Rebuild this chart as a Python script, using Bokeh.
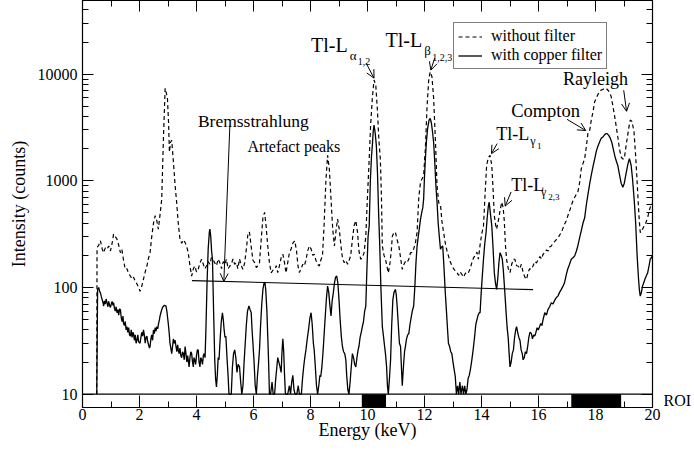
from bokeh.plotting import figure
from bokeh.models import (Range1d, FixedTicker, LinearAxis, LogAxis, Span, BoxAnnotation,
                          Label, Arrow, OpenHead, CustomJSTickFormatter, NumeralTickFormatter)
from bokeh.embed import file_html
from bokeh.resources import INLINE

# ---------------- data ----------------
energy_nofilter = [0.50, 0.51, 0.57, 0.63, 0.69, 0.74, 0.80, 0.86, 0.92, 0.98, 1.04, 1.09, 1.15, 1.21, 1.27, 1.33, 1.38, 1.44, 1.50, 1.56,
    1.62, 1.68, 1.74, 1.79, 1.85, 1.91, 1.97, 2.02, 2.08, 2.14, 2.20, 2.26, 2.31, 2.37, 2.43, 2.49, 2.55, 2.61, 2.66, 2.72,
    2.78, 2.84, 2.90, 2.95, 2.98, 3.02, 3.05, 3.09, 3.13, 3.19, 3.25, 3.31, 3.36, 3.42, 3.48, 3.54, 3.60, 3.66, 3.71, 3.77,
    3.83, 3.89, 3.94, 4.00, 4.06, 4.12, 4.18, 4.24, 4.29, 4.35, 4.41, 4.47, 4.52, 4.58, 4.64, 4.70, 4.76, 4.82, 4.88, 4.94,
    5.00, 5.05, 5.11, 5.17, 5.22, 5.28, 5.34, 5.40, 5.45, 5.51, 5.57, 5.63, 5.69, 5.75, 5.81, 5.86, 5.92, 5.98, 6.04, 6.10,
    6.16, 6.21, 6.27, 6.33, 6.39, 6.44, 6.50, 6.56, 6.62, 6.68, 6.74, 6.80, 6.85, 6.91, 6.97, 7.03, 7.09, 7.14, 7.20, 7.26,
    7.32, 7.38, 7.45, 7.51, 7.56, 7.61, 7.67, 7.73, 7.78, 7.84, 7.90, 7.96, 8.02, 8.08, 8.13, 8.19, 8.25, 8.31, 8.36, 8.42,
    8.48, 8.54, 8.60, 8.66, 8.72, 8.78, 8.84, 8.90, 8.95, 9.01, 9.07, 9.12, 9.18, 9.24, 9.30, 9.35, 9.41, 9.47, 9.53, 9.59,
    9.65, 9.70, 9.76, 9.82, 9.88, 9.94, 9.99, 10.05, 10.11, 10.17, 10.23, 10.29, 10.35, 10.40, 10.45, 10.49, 10.52, 10.58, 10.63, 10.68,
    10.73, 10.79, 10.84, 10.87, 10.93, 10.98, 11.04, 11.10, 11.16, 11.22, 11.28, 11.33, 11.39, 11.45, 11.51, 11.56, 11.62, 11.68, 11.74, 11.80,
    11.86, 11.92, 11.97, 12.03, 12.09, 12.15, 12.20, 12.26, 12.32, 12.38, 12.44, 12.50, 12.56, 12.61, 12.67, 12.73, 12.79, 12.84, 12.90, 12.96,
    13.02, 13.08, 13.14, 13.20, 13.25, 13.31, 13.37, 13.43, 13.49, 13.54, 13.60, 13.66, 13.72, 13.78, 13.84, 13.89, 13.95, 14.01, 14.07, 14.12,
    14.18, 14.24, 14.30, 14.36, 14.40, 14.45, 14.50, 14.53, 14.59, 14.65, 14.71, 14.76, 14.80, 14.84, 14.88, 14.94, 15.00, 15.06, 15.12, 15.17,
    15.23, 15.28, 15.34, 15.40, 15.46, 15.52, 15.58, 15.64, 15.69, 15.75, 15.81, 15.87, 15.93, 15.99, 16.05, 16.11, 16.16, 16.22, 16.28, 16.34,
    16.39, 16.45, 16.51, 16.57, 16.62, 16.68, 16.74, 16.80, 16.86, 16.91, 16.97, 17.03, 17.09, 17.15, 17.21, 17.27, 17.33, 17.38, 17.44, 17.50,
    17.56, 17.62, 17.68, 17.74, 17.80, 17.85, 17.91, 17.97, 18.03, 18.08, 18.14, 18.20, 18.26, 18.32, 18.37, 18.43, 18.49, 18.55, 18.60, 18.66,
    18.72, 18.78, 18.84, 18.90, 18.96, 19.01, 19.07, 19.13, 19.19, 19.22, 19.28, 19.35, 19.41, 19.48, 19.53, 19.57, 19.61, 19.65, 19.71, 19.77,
    19.83, 19.88, 19.94, 20.00]
counts_nofilter = [10, 237, 250, 274, 230, 212, 235, 228, 245, 220, 260, 316, 300, 284, 250, 212, 228, 180, 148, 150,
    135, 128, 120, 125, 115, 108, 100, 92, 103, 120, 140, 159, 185, 212, 300, 400, 471, 420, 352, 480,
    676, 2500, 7380, 6500, 5940, 3500, 1862, 2300, 2400, 1500, 904, 600, 400, 284, 260, 280, 264, 240, 212, 160,
    128, 150, 159, 140, 148, 170, 184, 165, 150, 159, 175, 165, 190, 184, 170, 160, 185, 171, 150, 175,
    165, 184, 150, 159, 165, 185, 165, 171, 150, 185, 160, 148, 170, 230, 330, 328, 240, 180, 171, 154,
    160, 171, 280, 450, 506, 380, 245, 170, 137, 145, 148, 160, 138, 160, 190, 205, 170, 137, 170, 212,
    230, 260, 274, 220, 160, 138, 150, 165, 159, 180, 220, 245, 230, 200, 205, 180, 165, 159, 180, 198,
    400, 1000, 1733, 1300, 676, 350, 245, 350, 438, 350, 245, 190, 171, 180, 165, 177, 200, 280, 380, 423,
    330, 220, 184, 190, 212, 300, 630, 1400, 3325, 6000, 8800, 7930, 4500, 2400, 1613, 700, 245, 200, 184, 160,
    137, 170, 230, 300, 330, 328, 280, 245, 190, 148, 165, 175, 171, 185, 212, 212, 230, 260, 330, 700,
    971, 1050, 1122, 2000, 5000, 9000, 10500, 9500, 6000, 2500, 900, 620, 600, 420, 328, 260, 220, 198, 175, 160,
    150, 143, 138, 130, 140, 133, 125, 135, 140, 137, 150, 170, 190, 198, 215, 184, 250, 320, 379, 700,
    1396, 1650, 1734, 1400, 900, 471, 380, 352, 420, 525, 630, 560, 420, 250, 184, 150, 138, 165, 184, 184,
    160, 159, 150, 165, 138, 125, 119, 140, 150, 148, 160, 175, 170, 184, 195, 185, 205, 212, 225, 220,
    240, 245, 260, 270, 280, 290, 310, 328, 360, 390, 420, 471, 520, 585, 650, 700, 750, 782, 950, 1297,
    1450, 1613, 2100, 2877, 3000, 3700, 4400, 5500, 6000, 6400, 6855, 7100, 7200, 7350, 7380, 7100, 6800, 6150, 5200, 4200,
    3325, 2600, 2000, 1672, 1600, 1613, 2100, 2680, 3400, 3710, 3600, 2900, 1700, 782, 450, 328, 330, 352, 380, 407,
    450, 520, 585, 620]

energy_cu = [0.50, 0.53, 0.57, 0.60, 0.63, 0.66, 0.69, 0.72, 0.74, 0.77, 0.80, 0.83, 0.86, 0.89, 0.92, 0.95, 0.98, 1.01, 1.04, 1.07,
    1.09, 1.12, 1.15, 1.18, 1.21, 1.24, 1.27, 1.30, 1.33, 1.36, 1.39, 1.42, 1.44, 1.47, 1.50, 1.53, 1.56, 1.59, 1.62, 1.65,
    1.68, 1.71, 1.74, 1.77, 1.79, 1.82, 1.85, 1.88, 1.91, 1.94, 1.97, 2.02, 2.05, 2.08, 2.11, 2.14, 2.17, 2.20, 2.23, 2.26,
    2.29, 2.32, 2.35, 2.37, 2.40, 2.43, 2.46, 2.49, 2.52, 2.55, 2.58, 2.61, 2.64, 2.67, 2.70, 2.72, 2.75, 2.78, 2.81, 2.84,
    2.88, 2.93, 2.96, 3.01, 3.04, 3.07, 3.10, 3.13, 3.16, 3.19, 3.22, 3.25, 3.28, 3.31, 3.34, 3.36, 3.39, 3.42, 3.45, 3.48,
    3.51, 3.54, 3.57, 3.60, 3.63, 3.66, 3.69, 3.71, 3.74, 3.77, 3.80, 3.83, 3.86, 3.89, 3.91, 3.94, 3.97, 4.00, 4.03, 4.06,
    4.09, 4.12, 4.15, 4.18, 4.21, 4.24, 4.27, 4.30, 4.33, 4.37, 4.41, 4.45, 4.47, 4.50, 4.53, 4.56, 4.60, 4.64, 4.67, 4.70,
    4.73, 4.76, 4.79, 4.83, 4.87, 4.91, 4.94, 4.97, 5.00, 5.03, 5.07, 5.11, 5.14, 5.19, 5.22, 5.26, 5.30, 5.34, 5.38, 5.42,
    5.46, 5.51, 5.55, 5.59, 5.63, 5.67, 5.71, 5.75, 5.79, 5.84, 5.88, 5.92, 5.95, 5.98, 6.02, 6.06, 6.10, 6.14, 6.18, 6.21,
    6.25, 6.29, 6.33, 6.37, 6.40, 6.43, 6.47, 6.50, 6.53, 6.56, 6.60, 6.65, 6.69, 6.74, 6.78, 6.82, 6.85, 6.89, 6.93, 6.97,
    7.00, 7.03, 7.06, 7.09, 7.12, 7.20, 7.26, 7.30, 7.34, 7.38, 7.42, 7.46, 7.52, 7.57, 7.61, 7.68, 7.72, 7.76, 7.80, 7.84,
    7.88, 7.93, 7.98, 8.02, 8.06, 8.10, 8.13, 8.17, 8.21, 8.25, 8.29, 8.33, 8.36, 8.40, 8.44, 8.48, 8.52, 8.56, 8.60, 8.64,
    8.68, 8.72, 8.76, 8.80, 8.84, 8.88, 8.92, 8.96, 9.00, 9.04, 9.08, 9.12, 9.16, 9.20, 9.24, 9.27, 9.31, 9.35, 9.39, 9.43,
    9.47, 9.51, 9.55, 9.59, 9.63, 9.67, 9.70, 9.74, 9.78, 9.82, 9.86, 9.90, 9.94, 9.98, 10.02, 10.06, 10.10, 10.14, 10.17, 10.20,
    10.23, 10.27, 10.31, 10.35, 10.39, 10.43, 10.47, 10.52, 10.56, 10.60, 10.63, 10.67, 10.70, 10.73, 10.77, 10.81, 10.85, 10.89, 10.93, 10.98,
    11.01, 11.04, 11.08, 11.12, 11.16, 11.19, 11.22, 11.26, 11.30, 11.33, 11.37, 11.41, 11.45, 11.49, 11.53, 11.57, 11.62, 11.66, 11.70, 11.74,
    11.78, 11.82, 11.86, 11.90, 11.94, 11.97, 12.00, 12.03, 12.07, 12.11, 12.16, 12.20, 12.24, 12.28, 12.32, 12.36, 12.40, 12.44, 12.48, 12.52,
    12.56, 12.60, 12.64, 12.68, 12.73, 12.77, 12.81, 12.84, 12.88, 12.92, 12.96, 13.00, 13.04, 13.08, 13.12, 13.16, 13.20, 13.24, 13.28, 13.33,
    13.37, 13.41, 13.45, 13.49, 13.53, 13.57, 13.61, 13.65, 13.69, 13.72, 13.76, 13.80, 13.84, 13.88, 13.92, 13.95, 13.99, 14.03, 14.07, 14.11,
    14.16, 14.20, 14.24, 14.27, 14.31, 14.36, 14.40, 14.45, 14.49, 14.53, 14.57, 14.61, 14.65, 14.69, 14.73, 14.77, 14.82, 14.86, 14.90, 14.94,
    14.97, 15.00, 15.04, 15.08, 15.12, 15.16, 15.20, 15.23, 15.27, 15.31, 15.35, 15.39, 15.43, 15.46, 15.50, 15.54, 15.58, 15.62, 15.66, 15.70,
    15.75, 15.79, 15.83, 15.87, 15.91, 15.95, 15.99, 16.04, 16.08, 16.12, 16.16, 16.22, 16.28, 16.33, 16.39, 16.45, 16.51, 16.57, 16.62, 16.68,
    16.74, 16.80, 16.86, 16.91, 16.97, 17.03, 17.09, 17.15, 17.21, 17.27, 17.33, 17.38, 17.44, 17.50, 17.56, 17.62, 17.68, 17.74, 17.80, 17.85,
    17.91, 17.97, 18.03, 18.08, 18.14, 18.20, 18.26, 18.32, 18.37, 18.41, 18.47, 18.52, 18.57, 18.63, 18.68, 18.74, 18.78, 18.84, 18.90, 18.96,
    19.01, 19.08, 19.14, 19.19, 19.25, 19.30, 19.36, 19.41, 19.46, 19.51, 19.54, 19.57, 19.61, 19.65, 19.69, 19.73, 19.78, 19.83, 19.88, 19.92,
    19.96, 20.00]
counts_cu = [10, 96, 100, 92, 89, 82, 77, 72, 67, 75, 70, 78, 72, 66, 74, 68, 65, 70, 74, 68,
    72, 64, 60, 66, 58, 62, 55, 63, 62, 52, 48, 54, 46, 44, 48, 40, 43, 38, 42, 36,
    35, 40, 34, 38, 37, 32, 36, 30, 32, 36, 31, 30, 34, 38, 35, 40, 36, 30, 34, 35,
    31, 29, 27, 28, 33, 36, 32, 40, 37, 42, 39, 43, 41, 46, 50, 54, 58, 62, 65, 67,
    68, 67, 60, 46, 38, 30, 27, 24, 28, 33, 30, 32, 28, 25, 29, 26, 24, 27, 23, 22,
    25, 24, 21, 28, 24, 20, 23, 21, 18, 22, 25, 24, 20, 18, 22, 21, 19, 23, 26, 26,
    20, 18, 22, 21, 19, 23, 24, 22, 40, 110, 230, 330, 352, 300, 220, 184, 60, 21, 14, 11.7,
    15, 22, 21, 33, 48, 58, 50, 40, 34, 35, 22, 14.6, 10, 10, 10, 18, 24, 26, 22, 16,
    19, 18, 13, 10, 12, 20, 30, 45, 60, 67, 62, 58, 40, 30, 20, 12, 10, 15, 20, 26,
    45, 70, 96, 110, 112, 95, 60, 35, 20, 10, 10, 13, 10, 10, 14, 18, 22, 20, 18, 16,
    25, 33, 25, 15, 10, 10, 12, 10, 13, 15, 11, 10, 10, 12, 10, 10, 14, 18, 22, 26,
    32, 40, 52, 58, 45, 30, 26, 18, 12, 10, 12, 15, 14.6, 18, 25, 37, 55, 80, 103, 90,
    68, 54, 75, 89, 110, 125, 128, 110, 77, 50, 35, 28, 25, 24, 21, 15, 11, 10, 13, 18,
    24, 22, 19, 18, 22, 26, 28, 34, 38, 43, 48, 60, 67, 150, 300, 380, 1000, 1700, 2150, 2900,
    3330, 2800, 2150, 1200, 500, 245, 100, 43, 35, 28, 24, 18, 12, 10, 14, 21, 45, 77, 90, 96,
    85, 67, 45, 30, 28, 18, 12, 18, 25, 28, 33, 36, 37, 45, 52, 60, 67, 100, 170, 245,
    300, 360, 438, 500, 560, 676, 1100, 1600, 2400, 3100, 3700, 3850, 3500, 2900, 2300, 1500, 900, 630, 400, 300,
    228, 240, 245, 160, 89, 60, 40, 30, 28, 25, 24, 20, 17, 14.6, 10, 12, 10, 13, 10, 12,
    10, 12, 10, 11, 14, 15, 17, 20, 24, 28, 35, 45, 50, 55, 58, 58, 90, 130, 184, 250,
    328, 450, 580, 630, 500, 380, 250, 137, 110, 96, 120, 170, 212, 200, 184, 140, 89, 60, 42, 33,
    24, 18, 20, 24, 26, 34, 40, 43, 38, 34, 32, 26, 24, 21, 22, 25, 24, 28, 34, 38,
    37, 33, 36, 35, 38, 42, 40, 43, 46, 44, 50, 58, 55, 62, 66, 72, 70, 76, 80, 83,
    90, 96, 103, 110, 130, 150, 165, 184, 190, 198, 220, 245, 290, 340, 400, 450, 600, 760, 950, 1122,
    1350, 1600, 1900, 2100, 2300, 2500, 2580, 2700, 2770, 2770, 2650, 2500, 2300, 1950, 1700, 1500, 1400, 1150, 950, 871,
    950, 1200, 1450, 1613, 1400, 1040, 650, 400, 200, 120, 95, 83, 90, 103, 110, 119, 128, 137, 160, 184,
    190, 200]

roi_start = [9.8, 17.15]
roi_end = [10.65, 18.9]
roi_label_level = [8.66]

x_major_ticks = [0, 2, 4, 6, 8, 10, 12, 14, 16, 18, 20]
x_minor_ticks = [1, 3, 5, 7, 9, 11, 13, 15, 17, 19]
y_major_ticks = [10, 100, 1000, 10000]
y_minor_ticks = [m * d for d in (10, 100, 1000) for m in range(2, 10)] + [20000, 30000, 40000]

bremsstrahlung_x = [3.84, 15.81]
bremsstrahlung_y = [116, 95.5]

# ---------------- figure ----------------
FONT = "Liberation Serif"
Y_BOTTOM = 7.5   # lower end of the axis (ROI strip below the 10-count line)
Y_TOP = 49000

p = figure(width=694, height=448, y_axis_type="log",
           x_range=Range1d(0, 20), y_range=Range1d(Y_BOTTOM, Y_TOP),
           output_backend="svg", toolbar_location=None,
           min_border_left=82, min_border_right=39, min_border_top=0, min_border_bottom=41)
p.grid.visible = False
p.outline_line_color = "black"
p.outline_line_width = 1.2
p.background_fill_color = "white"
p.border_fill_color = "white"

xt = FixedTicker(ticks=x_major_ticks, minor_ticks=x_minor_ticks)
yt = FixedTicker(ticks=y_major_ticks, minor_ticks=y_minor_ticks)

def style_axis(ax, major_len, minor_len):
    ax.major_tick_in = major_len
    ax.major_tick_out = 0
    ax.minor_tick_in = minor_len
    ax.minor_tick_out = 0
    ax.axis_line_color = "black"
    ax.major_tick_line_color = "black"
    ax.minor_tick_line_color = "black"
    ax.major_tick_line_width = 1
    ax.minor_tick_line_width = 1
    ax.major_label_text_font = FONT
    ax.major_label_text_font_size = "16px"
    ax.major_label_text_color = "black"
    ax.axis_label_text_font = FONT
    ax.axis_label_text_font_size = "18px"
    ax.axis_label_text_font_style = "normal"
    ax.axis_label_text_color = "black"

xa = p.xaxis[0]
xa.ticker = xt
style_axis(xa, 12, 6)
xa.major_label_standoff = 1
xa.axis_label = "Energy (keV)"
xa.axis_label_standoff = -3

ya = p.yaxis[0]
ya.ticker = yt
ya.formatter = NumeralTickFormatter(format="0")
style_axis(ya, 11, 6)
ya.major_label_standoff = 5
ya.axis_label = "Intensity (counts)"
ya.axis_label_standoff = 6

blank = CustomJSTickFormatter(code="return ''")
top_ax = LinearAxis(ticker=xt, formatter=blank)
style_axis(top_ax, 11, 6)
top_ax.major_label_standoff = 0
p.add_layout(top_ax, "above")

right_ax = LogAxis(ticker=yt, formatter=blank)
style_axis(right_ax, 11, 6)
right_ax.major_label_standoff = 0
p.add_layout(right_ax, "right")

# ROI strip
p.add_layout(Span(location=10, dimension="width", line_color="black", line_width=1.2))
for a, b in zip(roi_start, roi_end):
    p.add_layout(BoxAnnotation(left=a, right=b, bottom=Y_BOTTOM, top=10,
                               fill_color="black", fill_alpha=1, line_alpha=0))
roi_ax = LogAxis(ticker=FixedTicker(ticks=roi_label_level),
                 formatter=CustomJSTickFormatter(code="return 'ROI'"))
roi_ax.axis_line_color = None
roi_ax.major_tick_line_color = None
roi_ax.minor_tick_line_color = None
roi_ax.major_tick_in = 0
roi_ax.major_tick_out = 0
roi_ax.major_label_standoff = 11
roi_ax.major_label_text_font = FONT
roi_ax.major_label_text_font_size = "16px"
roi_ax.major_label_text_color = "black"
p.add_layout(roi_ax, "right")

# spectra
r1 = p.line(energy_nofilter, counts_nofilter, line_color="black", line_width=1.2,
            line_dash="4 3", legend_label="without filter")
r2 = p.line(energy_cu, counts_cu, line_color="black", line_width=1.3,
            legend_label="with copper filter")

# Bremsstrahlung baseline
p.line(bremsstrahlung_x, bremsstrahlung_y, line_color="black", line_width=1.1)

# legend
lg = p.legend[0]
lg.location = (371, 338)
lg.label_text_font = FONT
lg.label_text_font_size = "16px"
lg.label_text_color = "black"
lg.label_height = 17
lg.glyph_height = 17
lg.glyph_width = 24
lg.label_standoff = 9
lg.padding = 4
lg.spacing = 1
lg.margin = 0
lg.border_line_color = "black"
lg.border_line_width = 1
lg.background_fill_alpha = 1

# annotations
def txt(x, y, s, size):
    p.add_layout(Label(x=x, y=y, text=s, text_font=FONT, text_font_size=size,
                       text_color="black", text_baseline="alphabetic", text_align="left"))

def arrow(x0, y0, x1, y1):
    p.add_layout(Arrow(x_start=x0, y_start=y0, x_end=x1, y_end=y1, line_width=1,
                       line_color="black", end=OpenHead(size=8, line_width=1, line_color="black")))

# Tl-L alpha
txt(8.02, 18800, "Tl-L", "20px")
txt(9.38, 15100, "α", "13px")
txt(9.66, 13270, "1,2", "10px")
arrow(9.95, 12700, 10.23, 9170)
# Tl-L beta
txt(10.63, 20900, "Tl-L", "20px")
txt(11.99, 16500, "β", "13px")
txt(12.27, 14200, "1,2,3", "10px")
arrow(12.36, 14160, 12.22, 10900)
# Rayleigh / Compton
txt(16.86, 8970, "Rayleigh", "18px")
arrow(18.99, 7060, 19.09, 4480)
txt(15.04, 4480, "Compton", "18.5px")
arrow(17.0, 3770, 17.66, 2960)
# Tl-L gamma1
txt(14.52, 2776, "Tl-L", "18px")
txt(15.71, 2386, "γ", "12px")
txt(15.95, 2140, "1", "9px")
arrow(14.55, 2233, 14.35, 1797)
# Tl-L gamma2,3
txt(15.04, 918, "Tl-L", "18px")
txt(16.09, 787, "γ", "12px")
txt(16.34, 706, "2,3", "9px")
arrow(15.04, 787, 14.83, 579)
# Bremsstrahlung & artefacts
txt(4.05, 3600, "Bremsstrahlung", "17.5px")
arrow(5.17, 3300, 4.96, 114)
txt(5.79, 2090, "Artefact peaks", "16px")

open("out.html", "w").write(file_html(p, INLINE))
